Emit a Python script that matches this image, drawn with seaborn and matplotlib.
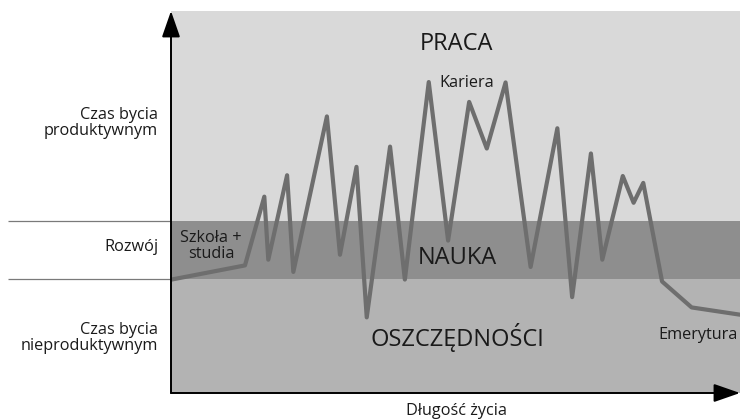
import seaborn as sns
import matplotlib.pyplot as plt
import pandas as pd

# życie: x = długość życia (0-100), y = poziom (0-100)
life_x = [0.1, 13.0, 16.4, 17.1, 20.4, 21.5, 27.4, 29.7, 32.6, 34.4, 38.5, 41.1, 45.3, 48.7,
          52.4, 55.5, 58.8, 63.2, 67.9, 70.5, 73.8, 75.8, 79.4, 81.3, 83.0, 86.3, 91.5, 100.0]
life_y = [29.7, 33.4, 51.4, 34.9, 57.0, 31.7, 72.4, 36.2, 59.2, 19.8, 64.5, 29.7, 81.4, 39.9,
          76.2, 64.0, 81.3, 33.0, 69.3, 25.1, 62.7, 34.9, 56.8, 49.8, 55.0, 29.2, 22.4, 20.5]

# strefy: dolna, środkowa, górna
zone_names = ['OSZCZĘDNOŚCI', 'NAUKA', 'PRACA']
zone_edges = [0, 29.9, 45.1, 100]
zone_colors = ['#b3b3b3', '#8e8e8e', '#d9d9d9']

left_labels = ['Czas bycia\nnieproduktywnym', 'Rozwój', 'Czas bycia\nproduktywnym']

sns.set_theme(style='white')
plt.rcParams['font.family'] = ['Open Sans', 'DejaVu Sans']

W, H = 740, 420
fig = plt.figure(figsize=(7.4, 4.2), dpi=100)
ax = fig.add_axes([171 / W, 1 - 393 / H, (740 - 171) / W, 382 / H])

for i in range(3):
    ax.axhspan(zone_edges[i], zone_edges[i + 1], color=zone_colors[i], lw=0, zorder=0)

df = pd.DataFrame({'x': life_x, 'y': life_y})
sns.lineplot(data=df, x='x', y='y', ax=ax, color='#6e6e6e', linewidth=3.0,
             sort=False, estimator=None, zorder=3)

ax.set_xlim(0, 100)
ax.set_ylim(0, 100)
ax.set_xticks([])
ax.set_yticks([])
ax.set_xlabel('')
ax.set_ylabel('')
for s in ax.spines.values():
    s.set_visible(False)

# linie po lewej stronie (granice strefy rozwoju)
ax.hlines(zone_edges[1:3], xmin=-28.6, xmax=0, colors='#7a7a7a', lw=0.9, clip_on=False)

# osie ze strzałkami
arrow = dict(arrowstyle='-|>,head_length=1.35,head_width=0.47', color='black', lw=1.4,
             shrinkA=0, shrinkB=0)
ax.annotate('', xy=(0, 1), xytext=(0, 0), xycoords='axes fraction', arrowprops=arrow, zorder=5)
ax.annotate('', xy=(1, 0), xytext=(0, 0), xycoords='axes fraction', arrowprops=arrow, zorder=5)


def px(x, y):
    return x / W, 1 - y / H


tc = '#1a1a1a'
big = 17
small = 11.7
fig.text(*px(457, 44), zone_names[2], ha='center', va='center', fontsize=big, color=tc)
fig.text(*px(457, 258), zone_names[1], ha='center', va='center', fontsize=big, color=tc)
fig.text(*px(457, 338), zone_names[0], ha='center', va='center', fontsize=big, color=tc)

fig.text(*px(467, 83), 'Kariera', ha='center', va='center', fontsize=small, color=tc)
fig.text(*px(211, 246), 'Szkoła +\nstudia', ha='center', va='center', fontsize=small,
         color=tc, linespacing=1.0)
fig.text(*px(698, 335), 'Emerytura', ha='center', va='center', fontsize=small, color=tc)

fig.text(*px(158, 338), left_labels[0], ha='right', va='center', fontsize=small,
         color=tc, multialignment='right', linespacing=1.05)
fig.text(*px(158, 247), left_labels[1], ha='right', va='center', fontsize=small, color=tc)
fig.text(*px(158, 123), left_labels[2], ha='right', va='center', fontsize=small,
         color=tc, multialignment='right', linespacing=1.05)

fig.text(*px(456, 411), 'Długość życia', ha='center', va='center', fontsize=small, color=tc)

fig.savefig('out.png', dpi=100, facecolor='white')
